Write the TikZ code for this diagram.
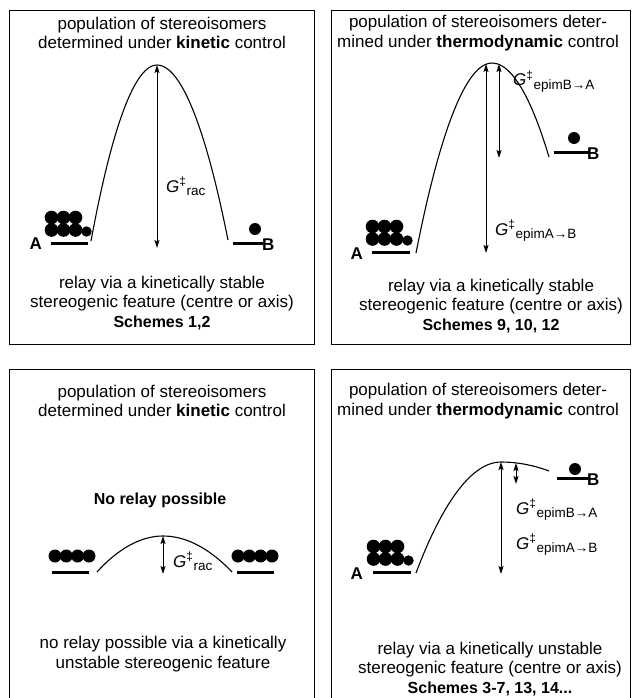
\documentclass[tikz,border=0pt]{standalone}
\usepackage{fontspec}
\setmainfont{Liberation Sans}
\usepackage{tikz}
\usetikzlibrary{arrows.meta}
\newcommand{\bigpop}[2]{% 6+1 balls over the level line starting at (#1,#2)
  \foreach \dx in {0.5,12.5,24.5}{\fill (#1+\dx,#2-25.5) circle[radius=6.8pt];\fill (#1+\dx,#2-13) circle[radius=6.8pt];}
  \fill (#1+35.5,#2-11.5) circle[radius=5.2pt];}
\newcommand{\rowpop}[2]{% four balls in a row over the level line starting at (#1,#2)
  \foreach \dx in {3,14.3,25.6,37}{\fill (#1+\dx,#2-16) circle[radius=6.5pt];}}
\newcommand{\Gdd}[1]{\textit{G}\textsuperscript{‡}\raisebox{-0.22em}{\fontsize{13.5}{14}\selectfont #1}}
\newcommand{\bigbold}[1]{{\fontsize{16}{19.5}\selectfont\bfseries #1}}

\begin{document}
\begin{tikzpicture}[
  x=1pt,y=-1pt,
  frame/.style={draw=black,line width=1pt},
  txt/.style={align=center,inner sep=0pt,font=\fontsize{17}{19.8}\selectfont},
  lab/.style={inner sep=0pt,font=\fontsize{17}{18}\selectfont\bfseries},
  glab/.style={anchor=base west,inner sep=0pt,font=\fontsize{17}{18}\selectfont},
  curve/.style={line width=1.1pt},
  level/.style={line width=3pt},
  dbl/.style={{Stealth[length=8pt,width=5pt,inset=1.5pt]}-{Stealth[length=8pt,width=5pt,inset=1.5pt]},line width=0.9pt}
]
  \useasboundingbox (0,0) rectangle (632,698);
  \draw[frame] (9,10.5) rectangle (314,344);
  \draw[frame] (331,10.5) rectangle (630.5,344);
  \draw[frame] (9,369) rectangle (314,712);
  \draw[frame] (331,369) rectangle (630.5,712);

  % kinetic control, stable feature
  \node[txt] (top1) at (162,33) {population of stereoisomers\\determined under \textbf{kinetic} control};
  \coordinate (c1s) at (91,241); \coordinate (c1t) at (157,65); \coordinate (c1e) at (228,240);
  \coordinate (d1b) at (157,248);
  \coordinate (A1l) at (51,243); \coordinate (A1r) at (88,243);
  \coordinate (B1l) at (233,243); \coordinate (B1r) at (263,243);
  \draw[curve] (c1s) parabola bend (c1t) (c1e);
  \draw[level] (A1l)--(A1r); \draw[level] (B1l)--(B1r);
  \bigpop{51}{243}
  \fill (255,229) circle[radius=6pt];
  \node[lab,anchor=east] (A1) at (42,244) {A};
  \node[lab,anchor=west] (B1) at (262,245) {B};
  \draw[dbl] (c1t)--(d1b);
  \node[glab] (g1) at (166,192) {\Gdd{rac}};
  \node[txt] (bot1) at (162,303) {relay via a kinetically stable\\stereogenic feature (centre or axis)\\\bigbold{Schemes 1,2}};

  % thermodynamic control, stable feature
  \node[txt] (top2) at (478,33) {population of stereoisomers deter-\\mined under \textbf{thermodynamic} control};
  \coordinate (c2s) at (416,253); \coordinate (c2t) at (492,63); \coordinate (c2e) at (549,157);
  \coordinate (d2a) at (486,64); \coordinate (d2b) at (486,253);
  \coordinate (e2a) at (499,64); \coordinate (e2b) at (499,158);
  \coordinate (A2l) at (372,252); \coordinate (A2r) at (410,252);
  \coordinate (B2l) at (554,152); \coordinate (B2r) at (589,152);
  \draw[curve] (c2s) parabola bend (c2t) (c2e);
  \draw[level] (A2l)--(A2r); \draw[level] (B2l)--(B2r);
  \bigpop{372}{252}
  \fill (574,138) circle[radius=6pt];
  \node[lab,anchor=east] (A2) at (363,254) {A};
  \node[lab,anchor=west] (B2) at (587,154) {B};
  \draw[dbl] (d2a)--(d2b); \draw[dbl] (e2a)--(e2b);
  \node[glab] (g2a) at (513,86) {\Gdd{epimB→A}};
  \node[glab] (g2b) at (495,235) {\Gdd{epimA→B}};
  \node[txt] (bot2) at (491,306) {relay via a kinetically stable\\stereogenic feature (centre or axis)\\\bigbold{Schemes 9, 10, 12}};

  % kinetic control, unstable feature
  \node[txt] (top3) at (162,401) {population of stereoisomers\\determined under \textbf{kinetic} control};
  \node[inner sep=0pt] (norelay) at (160,500) {\bigbold{No relay possible}};
  \coordinate (c3s) at (97,572); \coordinate (c3t) at (163,536); \coordinate (c3e) at (232,572);
  \coordinate (d3b) at (163,574);
  \coordinate (L3l) at (52,572); \coordinate (L3r) at (89,572);
  \coordinate (R3l) at (237,572); \coordinate (R3r) at (274,572);
  \draw[curve] (c3s) parabola bend (c3t) (c3e);
  \draw[level] (L3l)--(L3r); \draw[level] (R3l)--(R3r);
  \rowpop{52}{572} \rowpop{235}{572}
  \draw[dbl] (c3t)--(d3b);
  \node[glab] (g3) at (173,567) {\Gdd{rac}};
  \node[txt] (bot3) at (163,654) {no relay possible via a kinetically\\unstable stereogenic feature};

  % thermodynamic control, unstable feature
  \node[txt] (top4) at (478,401) {population of stereoisomers deter-\\mined under \textbf{thermodynamic} control};
  \coordinate (c4s) at (416,573); \coordinate (c4t) at (501,462); \coordinate (c4e) at (549,471);
  \coordinate (d4b) at (501,574);
  \coordinate (e4a) at (516,463); \coordinate (e4b) at (516,484);
  \coordinate (A4l) at (373,572); \coordinate (A4r) at (411,572);
  \coordinate (B4l) at (557,478); \coordinate (B4r) at (589,478);
  \draw[curve] (c4s) parabola bend (c4t) (c4e);
  \draw[level] (A4l)--(A4r); \draw[level] (B4l)--(B4r);
  \bigpop{373}{572}
  \fill (575,469) circle[radius=6pt];
  \node[lab,anchor=east] (A4) at (363,574) {A};
  \node[lab,anchor=west] (B4) at (587,480) {B};
  \draw[dbl] (c4t)--(d4b); \draw[dbl] (e4a)--(e4b);
  \node[glab] (g4a) at (516,514) {\Gdd{epimB→A}};
  \node[glab] (g4b) at (516,549) {\Gdd{epimA→B}};
  \node[txt] (bot4) at (490,669) {relay via a kinetically unstable\\stereogenic feature (centre or axis)\\\bigbold{Schemes 3-7, 13, 14...}};
\end{tikzpicture}
\end{document}
